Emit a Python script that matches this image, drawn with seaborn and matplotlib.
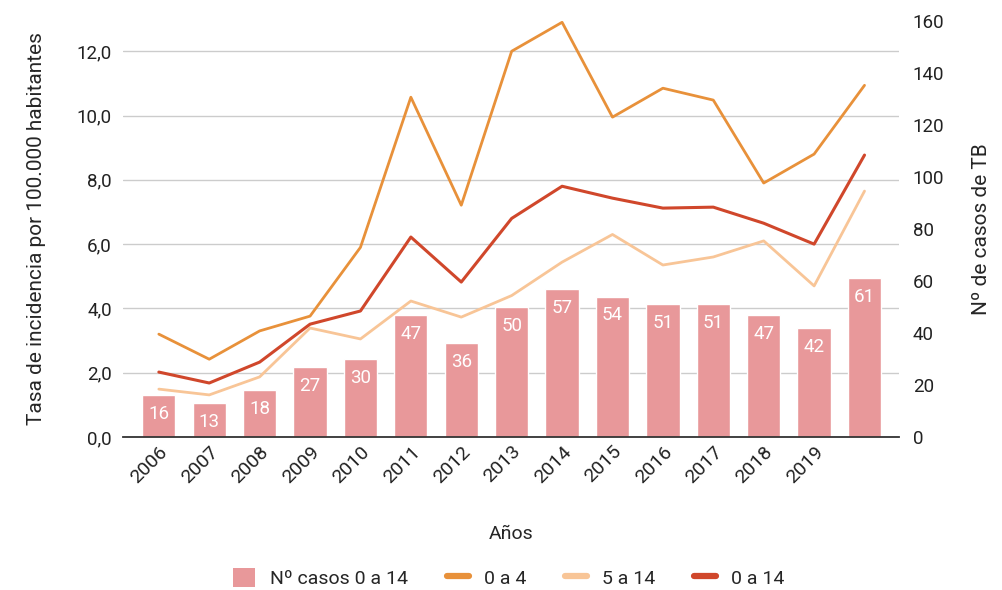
import numpy as np
import pandas as pd
import seaborn as sns
import matplotlib.pyplot as plt
from matplotlib.lines import Line2D
from matplotlib.patches import Patch

years = list(range(2006, 2021))
tick_years = years[:-1]
casos_0_14 = [16, 13, 18, 27, 30, 47, 36, 50, 57, 54, 51, 51, 47, 42, 61]
tasa_0_4 = [3.2, 2.42, 3.3, 3.76, 5.9, 10.57, 7.21, 12.0, 12.9, 9.95, 10.85, 10.48, 7.9, 8.8, 10.94]
tasa_5_14 = [1.49, 1.31, 1.87, 3.39, 3.05, 4.23, 3.73, 4.4, 5.44, 6.3, 5.35, 5.6, 6.1, 4.7, 7.65]
tasa_0_14 = [2.02, 1.68, 2.33, 3.51, 3.92, 6.22, 4.82, 6.8, 7.8, 7.43, 7.12, 7.15, 6.65, 6.0, 8.77]

left_ticks = [0, 2, 4, 6, 8, 10, 12]
right_ticks = [0, 20, 40, 60, 80, 100, 120, 140, 160]

c_bar = '#e8989a'
c_04 = '#e8913a'
c_514 = '#f8c597'
c_014 = '#d0472b'

sns.set_style('white')
plt.rcParams['font.family'] = ['Roboto', 'DejaVu Sans']

df = pd.DataFrame({'year': years, 'casos': casos_0_14,
                   't04': tasa_0_4, 't514': tasa_5_14, 't014': tasa_0_14})

fig = plt.figure(figsize=(10.02, 5.9), dpi=100)
ax = fig.add_axes([0.1228, 0.2593, 0.897 - 0.1228, 0.9644 - 0.2593])
ax2 = ax.twinx()   # bars, right axis
ax3 = ax.twinx()   # lines, left scale

# left axis: grid only
ax.set_ylim(0, 12.94)
ax.set_yticks(left_ticks)
ax.set_yticklabels([f'{t:.1f}'.replace('.', ',') for t in left_ticks])
ax.grid(axis='y', color='#cccccc', linewidth=1)
ax.set_ylabel('Tasa de incidencia por 100.000 habitantes', fontsize=15, labelpad=22)

# bars
sns.barplot(data=df, x='year', y='casos', native_scale=True, color=c_bar,
            saturation=1, width=0.66, ax=ax2)
ax2.set_ylim(0, 160)
ax2.set_yticks(right_ticks)
ax2.set_ylabel('Nº de casos de TB', fontsize=15, labelpad=20)
ax2.bar_label(ax2.containers[0], padding=-20, color='white', fontsize=13.5)

# lines
sns.lineplot(data=df, x='year', y='t04', color=c_04, linewidth=2, ax=ax3)
sns.lineplot(data=df, x='year', y='t514', color=c_514, linewidth=2, ax=ax3)
sns.lineplot(data=df, x='year', y='t014', color=c_014, linewidth=2.2, ax=ax3)
ax3.set_ylim(ax.get_ylim())
ax3.set_yticks([])
ax3.set_ylabel('')

ax.set_xlim(years[0] - 0.71, years[-1] + 0.68)
ax.set_xticks(tick_years)
ax.set_xticklabels([str(y) for y in tick_years], rotation=45, ha='right',
                   rotation_mode='anchor')
ax.set_xlabel('Años', fontsize=14, labelpad=28)
ax2.set_xlabel('')

for a in (ax, ax2, ax3):
    for s in a.spines.values():
        s.set_visible(False)
ax3.spines['bottom'].set_visible(True)
ax3.spines['bottom'].set_color('#333333')
ax3.spines['bottom'].set_linewidth(1.3)
ax.tick_params(axis='y', length=0, labelsize=13.5, colors='#222222', pad=8)
ax.tick_params(axis='x', length=0, labelsize=14, colors='#222222', pad=4)
ax2.tick_params(axis='y', length=0, labelsize=13.5, colors='#222222', pad=10)

handles = [Patch(facecolor=c_bar, edgecolor='none'),
           Line2D([], [], color=c_04, linewidth=4.5),
           Line2D([], [], color=c_514, linewidth=4.5),
           Line2D([], [], color=c_014, linewidth=4.5)]
labels = ['Nº casos 0 a 14', '0 a 4', '5 a 14', '0 a 14']
fig.legend(handles, labels, loc='center', bbox_to_anchor=(0.508, 0.02), ncol=4,
           frameon=False, fontsize=14, handlelength=1.1, handleheight=1.1,
           columnspacing=2.0, handletextpad=0.8)

fig.savefig('out.png', dpi=100)
